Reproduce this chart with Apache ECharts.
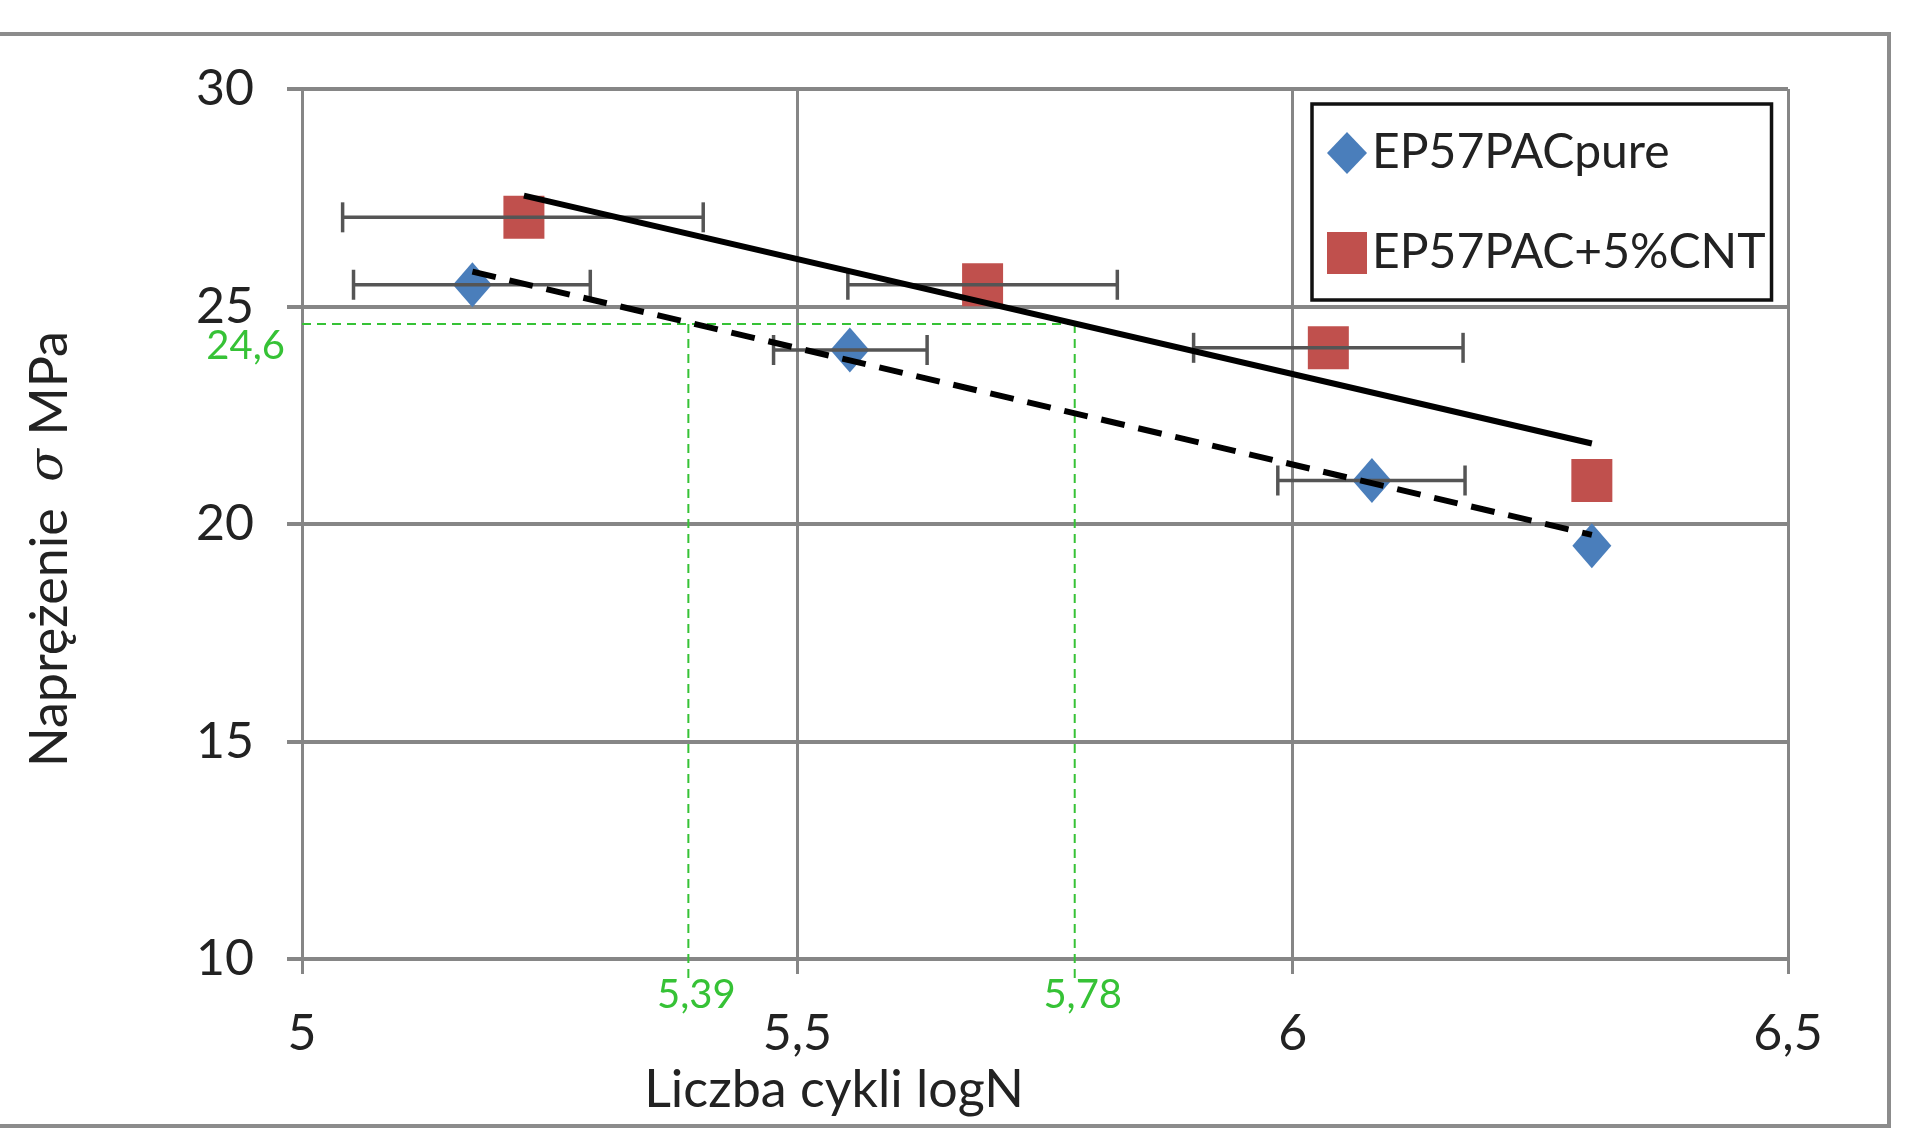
<!DOCTYPE html>
<html>
<head>
<meta charset="utf-8">
<script src="https://cdn.jsdelivr.net/npm/echarts@6/dist/echarts.min.js"></script>
<style>
  html, body { margin: 0; padding: 0; background: #fff; }
  #chart { width: 1923px; height: 1132px; }
</style>
</head>
<body>
<div id="chart"></div>
<script>
// dane
var seriesNames = ['EP57PACpure', 'EP57PAC+5%CNT'];
var pureX = [5.172, 5.553, 6.080, 6.302];
var pureY = [25.5, 24.0, 21.0, 19.5];
var pureErrLo = [5.052, 5.476, 5.985, null];
var pureErrHi = [5.291, 5.631, 6.174, null];
var cntX = [5.224, 5.687, 6.036, 6.302];
var cntY = [27.05, 25.5, 24.05, 21.0];
var cntErrLo = [5.041, 5.551, 5.900, null];
var cntErrHi = [5.405, 5.823, 6.172, null];
// linie trendu (poczatek, koniec)
var pureTrendX = [5.172, 6.302];
var pureTrendY = [25.8, 19.75];
var cntTrendX = [5.224, 6.302];
var cntTrendY = [27.55, 21.85];
// linie pomocnicze
var guideY = 24.6;
var guideX = [5.39, 5.78];
var xTicks = [5, 5.5, 6, 6.5];
var yTicks = [10, 15, 20, 25, 30];

var FONT = 'Lato';
var GREEN = '#36c236';

function pairs(xs, ys) {
    var out = [];
    for (var i = 0; i < xs.length; i++) out.push([xs[i], ys[i]]);
    return out;
}
function errRows(xs, ys, lo, hi) {
    var out = [];
    for (var i = 0; i < xs.length; i++) {
        if (lo[i] == null || hi[i] == null) continue;
        out.push([xs[i], ys[i], lo[i], hi[i]]);
    }
    return out;
}
function comma(v) {
    return String(v).replace('.', ',');
}

function renderErr(params, api) {
    var y = api.value(1);
    var a = api.coord([api.value(2), y]);
    var b = api.coord([api.value(3), y]);
    var st = { stroke: '#555555', lineWidth: 3.5 };
    var cap = 15;
    return {
        type: 'group',
        children: [
            { type: 'line', shape: { x1: a[0], y1: a[1], x2: b[0], y2: b[1] }, style: st },
            { type: 'line', shape: { x1: a[0], y1: a[1] - cap, x2: a[0], y2: a[1] + cap }, style: st },
            { type: 'line', shape: { x1: b[0], y1: b[1] - cap, x2: b[0], y2: b[1] + cap }, style: st }
        ]
    };
}

var myChart = echarts.init(document.getElementById('chart'));
myChart.setOption({
    backgroundColor: '#fff',
    animation: false,
    graphic: [{
        type: 'rect',
        shape: { x: -10, y: 34, width: 1899, height: 1092 },
        style: { fill: null, stroke: '#8c8c8c', lineWidth: 4 },
        z: -10
    }],
    grid: { left: 302, right: 135, top: 89, bottom: 173 },
    legend: {
        data: seriesNames,
        orient: 'vertical',
        left: 1312,
        top: 104,
        padding: [24, 6, 22, 15],
        itemGap: 50,
        itemWidth: 40,
        itemHeight: 42,
        backgroundColor: '#fff',
        borderColor: '#111',
        borderWidth: 3.5,
        textStyle: { fontFamily: FONT, fontSize: 48, color: '#222', lineHeight: 50 }
    },
    xAxis: {
        type: 'value',
        min: 5, max: 6.5, interval: 0.5,
        name: 'Liczba cykli logN',
        nameLocation: 'middle',
        nameGap: 94,
        nameTextStyle: { fontFamily: FONT, fontSize: 52, color: '#222', padding: [0, 422, 0, 0] },
        axisLine: { show: true, lineStyle: { color: '#868686', width: 4 } },
        axisTick: { show: true, length: 15, lineStyle: { color: '#868686', width: 3 } },
        axisLabel: {
            margin: 50, fontFamily: FONT, fontSize: 50, color: '#222',
            formatter: function (v) { return xTicks.indexOf(v) > -1 ? comma(v) : ''; }
        },
        splitLine: { show: true, lineStyle: { color: '#868686', width: 3 } }
    },
    yAxis: {
        type: 'value',
        min: 10, max: 30, interval: 5,
        name: 'Naprężenie  {s|σ} MPa',
        nameLocation: 'middle',
        nameRotate: 90,
        nameGap: 226,
        nameTextStyle: {
            fontFamily: FONT, fontSize: 52, color: '#222', padding: [0, 50, 0, 0],
            rich: { s: { fontFamily: 'DejaVu Serif', fontStyle: 'italic', fontSize: 48, color: '#222' } }
        },
        axisLine: { show: true, lineStyle: { color: '#868686', width: 3 } },
        axisTick: { show: true, length: 15, lineStyle: { color: '#868686', width: 4 } },
        axisLabel: {
            margin: 48, fontFamily: FONT, fontSize: 50, color: '#222',
            formatter: function (v) { return yTicks.indexOf(v) > -1 ? String(v) : ''; }
        },
        splitLine: { show: true, lineStyle: { color: '#868686', width: 4 } }
    },
    series: [
        {
            name: seriesNames[0],
            type: 'scatter',
            symbol: 'diamond',
            symbolSize: [39, 45],
            itemStyle: { color: '#4a7ebb', opacity: 1 },
            data: pairs(pureX, pureY),
            z: 2
        },
        {
            name: seriesNames[1],
            type: 'scatter',
            symbol: 'rect',
            symbolSize: [41, 43],
            itemStyle: { color: '#c0504d', opacity: 1 },
            data: pairs(cntX, cntY),
            z: 2
        },
        {
            type: 'custom',
            renderItem: renderErr,
            encode: { x: [0, 2, 3], y: 1 },
            data: errRows(pureX, pureY, pureErrLo, pureErrHi),
            z: 3
        },
        {
            type: 'custom',
            renderItem: renderErr,
            encode: { x: [0, 2, 3], y: 1 },
            data: errRows(cntX, cntY, cntErrLo, cntErrHi),
            z: 3
        },
        {
            // pozioma linia pomocnicza + etykieta 24,6
            type: 'custom',
            data: [[5, guideY, Math.max.apply(null, guideX)]],
            encode: { x: [0, 2], y: 1 },
            renderItem: function (params, api) {
                var a = api.coord([api.value(0), api.value(1)]);
                var b = api.coord([api.value(2), api.value(1)]);
                return {
                    type: 'group',
                    children: [
                        { type: 'line', shape: { x1: a[0], y1: a[1], x2: b[0], y2: b[1] },
                          style: { stroke: GREEN, lineWidth: 2, lineDash: [9, 6] } },
                        { type: 'text', x: a[0] - 17, y: a[1] + 22,
                          style: { text: comma(api.value(1)), fill: GREEN, font: '40px ' + FONT,
                                   align: 'right', verticalAlign: 'middle' } }
                    ]
                };
            },
            z: 4
        },
        {
            // pionowe linie pomocnicze + etykiety
            type: 'custom',
            data: guideX.map(function (g) { return [g, guideY]; }),
            renderItem: function (params, api) {
                var top = api.coord([api.value(0), api.value(1)]);
                var bot = api.coord([api.value(0), 10]);
                return {
                    type: 'group',
                    children: [
                        { type: 'line', shape: { x1: top[0], y1: top[1], x2: bot[0], y2: bot[1] + 22 },
                          style: { stroke: GREEN, lineWidth: 2, lineDash: [9, 6] } },
                        { type: 'text', x: top[0] + 8, y: bot[1] + 36,
                          style: { text: comma(api.value(0)), fill: GREEN, font: '40px ' + FONT,
                                   align: 'center', verticalAlign: 'middle' } }
                    ]
                };
            },
            z: 4
        },
        {
            type: 'line',
            data: pairs(pureTrendX, pureTrendY),
            symbol: 'none',
            lineStyle: { color: '#000', width: 6, type: [24, 14] },
            z: 5
        },
        {
            type: 'line',
            data: pairs(cntTrendX, cntTrendY),
            symbol: 'none',
            lineStyle: { color: '#000', width: 6 },
            z: 5
        }
    ]
});
</script>
</body>
</html>
